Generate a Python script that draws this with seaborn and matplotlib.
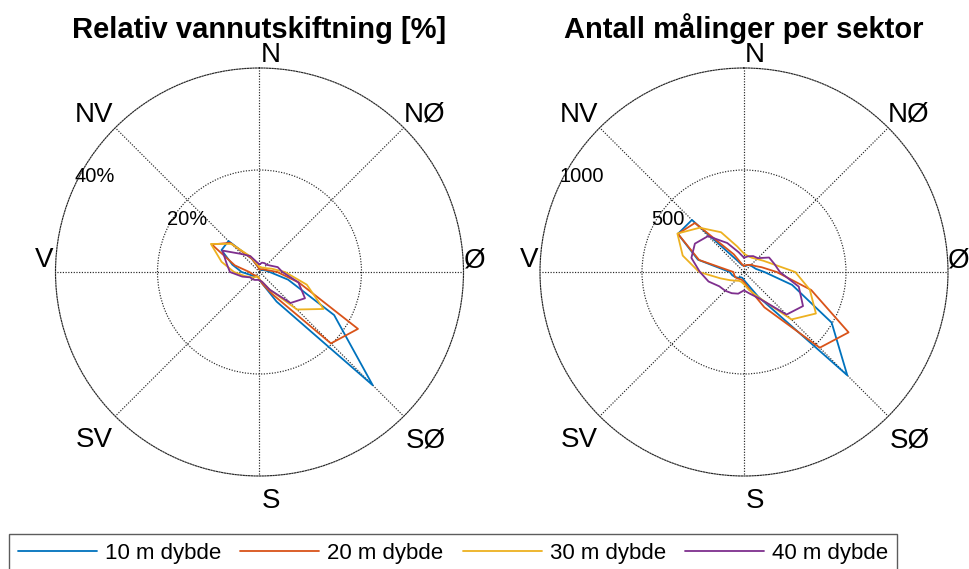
import numpy as np
import pandas as pd
import matplotlib
matplotlib.use("Agg")
import matplotlib.pyplot as plt
from matplotlib.lines import Line2D
import seaborn as sns

# Sector centres (compass degrees, 15 degree sectors)
sector_deg = list(range(0, 360, 15))
depth_labels = ["10 m dybde", "20 m dybde", "30 m dybde", "40 m dybde"]

# Relative water exchange per sector [%]
pct_10m = [0.5, 0.5, 0.5, 0.5, 0.8, 1.2, 2.0, 5.8, 16.9, 31.4, 6.7, 2.5,
           1.5, 1.0, 1.0, 1.2, 1.5, 2.0, 3.5, 5.5, 8.6, 8.6, 3.0, 1.0]
pct_20m = [0.5, 0.5, 0.6, 0.8, 1.0, 1.5, 3.5, 8.0, 22.3, 19.8, 5.0, 2.5,
           1.5, 1.0, 1.0, 1.0, 1.2, 1.5, 2.0, 5.0, 10.8, 8.1, 3.0, 1.0]
pct_30m = [1.0, 1.0, 1.0, 1.2, 1.5, 2.5, 5.0, 9.6, 14.5, 10.4, 4.0, 2.0,
           1.5, 1.0, 1.0, 1.5, 2.0, 3.0, 5.0, 7.7, 11.0, 7.8, 3.5, 1.5]
pct_40m = [1.5, 1.9, 2.0, 2.0, 2.5, 3.7, 4.5, 7.9, 10.3, 8.6, 4.0, 2.0,
           1.6, 1.6, 1.8, 2.0, 2.1, 3.5, 5.8, 6.7, 8.4, 5.0, 3.6, 2.0]

# Number of measurements per sector
n_10m = [30, 30, 40, 46, 50, 60, 100, 244, 496, 716, 140, 60,
         40, 30, 30, 40, 50, 60, 70, 234, 374, 361, 64, 35]
n_20m = [30, 35, 40, 50, 60, 90, 160, 341, 592, 525, 200, 80,
         50, 40, 40, 45, 50, 50, 52, 228, 374, 340, 100, 40]
n_30m = [90, 80, 80, 90, 110, 148, 251, 334, 407, 329, 144, 90,
         60, 50, 50, 60, 80, 120, 220, 311, 377, 307, 225, 130]
n_40m = [70, 80, 90, 96, 142, 154, 176, 278, 334, 295, 150, 110,
         90, 110, 120, 130, 140, 180, 216, 267, 278, 249, 164, 100]

compass_labels = ["N", "NØ", "Ø", "SØ", "S", "SV", "V", "NV"]
pct_ticks = [20, 40]
pct_tick_labels = ["20%", "40%"]
count_ticks = [500, 1000]
count_tick_labels = ["500", "1000"]
titles = ["Relativ vannutskiftning [%]", "Antall målinger per sektor"]
colors = ["#0072BD", "#D95319", "#EDB120", "#7E2F8E"]

sns.set_theme(style="white")
plt.rcParams["font.family"] = ["Liberation Sans", "DejaVu Sans"]
plt.rcParams["text.color"] = "black"

W, H = 970, 569
R = 204  # plot radius in pixels
GRID_COLOR = "#262626"
DOTS = (0, (1, 1.3))


def long_frame(series_list):
    frames = []
    for label, vals in zip(depth_labels, series_list):
        theta = np.radians(sector_deg + [360])
        r = list(vals) + [vals[0]]
        frames.append(pd.DataFrame({"theta": theta, "r": r, "dybde": label}))
    return pd.concat(frames, ignore_index=True)


# (ha, dx, dy) offsets in pixels from the rim point of each compass label
label_place = {
    0: ("left", 1, 6), 45: ("left", 0, 6), 90: ("left", 0, 5),
    135: ("left", 2, -31), 180: ("left", 2, -32), 225: ("right", -2, -31),
    270: ("right", -2, 5), 315: ("right", -2, 6),
}

fig = plt.figure(figsize=(W / 100, H / 100), dpi=100)
fig.patch.set_facecolor("white")

panels = [
    (259.5, 272, [pct_10m, pct_20m, pct_30m, pct_40m], pct_ticks, pct_tick_labels),
    (744, 272, [n_10m, n_20m, n_30m, n_40m], count_ticks, count_tick_labels),
]

for (cx, cy, series, ticks, tick_labels), title in zip(panels, titles):
    ax = fig.add_axes([(cx - R) / W, (H - cy - R) / H, 2 * R / W, 2 * R / H],
                      projection="polar")
    rmax = ticks[-1]
    df = long_frame(series)
    sns.lineplot(data=df, x="theta", y="r", hue="dybde", palette=colors,
                 sort=False, estimator=None, linewidth=1.3, legend=False, ax=ax)
    ax.set_xlabel("")
    ax.set_ylabel("")
    ax.set_theta_zero_location("N")
    ax.set_theta_direction(-1)
    ax.set_ylim(0, rmax)
    ax.set_yticks(ticks[:-1])
    ax.set_yticklabels([])
    ax.set_xticks(np.radians(np.arange(0, 360, 45)))
    ax.set_xticklabels([])
    ax.tick_params(length=0)
    ax.grid(True, color=GRID_COLOR, linestyle=DOTS, linewidth=0.85)
    ax.spines["polar"].set_linestyle(DOTS)
    ax.spines["polar"].set_color(GRID_COLOR)
    ax.spines["polar"].set_linewidth(0.85)
    ax.set_facecolor("white")

    for ang, lab in zip(range(0, 360, 45), compass_labels):
        ha, dx, dy = label_place[ang]
        ax.annotate(lab, xy=(np.radians(ang), rmax), xytext=(dx, dy),
                    textcoords="offset pixels", ha=ha, va="baseline",
                    fontsize=20, annotation_clip=False)

    for t, tl in zip(ticks, tick_labels):
        ax.annotate(tl, xy=(np.radians(295), t), xytext=(0, 4),
                    textcoords="offset pixels", ha="left", va="baseline",
                    fontsize=14.5, annotation_clip=False)

    fig.text(cx / W, 1 - 38 / H, title, ha="center", va="baseline",
             fontsize=21, fontweight="bold")

handles = [Line2D([], [], color=c, linewidth=1.3) for c in colors]
leg = fig.legend(handles, depth_labels, loc="upper left",
                 bbox_to_anchor=(9 / W, 1 - 534 / H), ncol=4, frameon=True,
                 fancybox=False, fontsize=16, handlelength=3.56,
                 handletextpad=0.36, columnspacing=0.86, borderpad=0.4,
                 borderaxespad=0)
leg.get_frame().set_edgecolor("#333333")
leg.get_frame().set_linewidth(1.0)

fig.savefig("out.png", dpi=100)
